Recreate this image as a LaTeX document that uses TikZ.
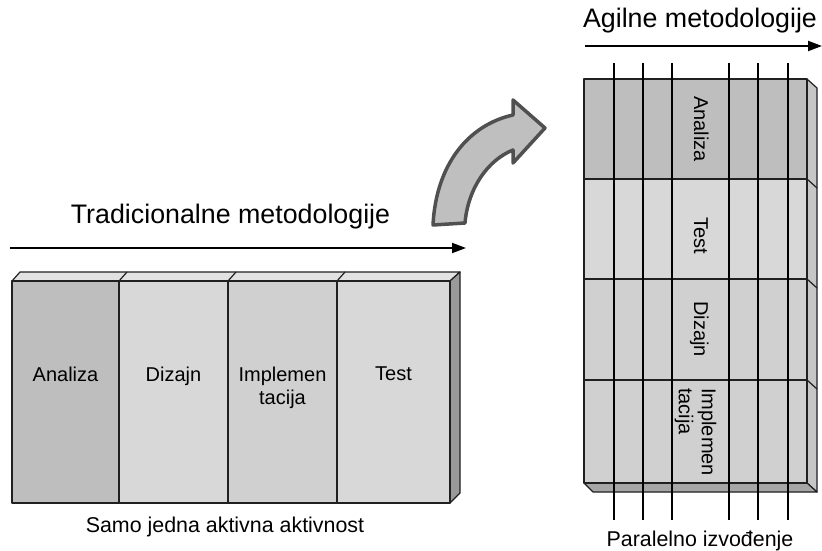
\documentclass[tikz,border=0pt]{standalone}
\usepackage{fontspec}
\setmainfont{Liberation Sans}
\usetikzlibrary{arrows.meta}
\definecolor{gA}{HTML}{BEBEBE}
\definecolor{gL}{HTML}{D8D8D8}
\definecolor{gM}{HTML}{D0D0D0}
\definecolor{topc}{HTML}{E2E2E2}
\definecolor{sidec}{HTML}{9A9A9A}
\definecolor{rside}{HTML}{C6C6C6}
\definecolor{rbot}{HTML}{A6A6A6}
\definecolor{arrfill}{HTML}{BFBFBF}
\definecolor{arredge}{HTML}{505050}
\definecolor{edgec}{HTML}{202020}
\begin{document}
\begin{tikzpicture}[x=1pt,y=-1pt,
  edge/.style={draw=edgec,line width=1.2pt,line join=round},
  tarrow/.style={line width=2pt,-{Triangle[length=14pt,width=10pt]}},
  vline/.style={line width=2.6pt},
  boxlab/.style={inner sep=0pt,anchor=north,align=center,font=\fontsize{20}{23}\selectfont},
  rlab/.style={inner sep=0pt,rotate=-90,text height=14pt,text depth=0pt,font=\fontsize{20}{23}\selectfont},
  titlelab/.style={inner sep=0pt,anchor=base,font=\fontsize{26.8}{30}\selectfont},
  caplab/.style={inner sep=0pt,anchor=base,font=\fontsize{21.4}{25}\selectfont}]
\useasboundingbox[fill=white] (0,0) rectangle (822,551);

% ---------- Traditional ----------
\node[titlelab] (ttrad) at (230.5,223) {Tradicionalne metodologije};
\coordinate (ta1) at (10,248);
\coordinate (ta2) at (466,248);
\draw[tarrow] (ta1) -- (ta2);

% top face
\draw[edge,fill=topc] (12,281) -- (20,272) -- (460,272) -- (450,281) -- cycle;
\draw[edge] (119,281) -- (127,272);
\draw[edge] (228,281) -- (236,272);
\draw[edge] (337,281) -- (345,272);
% side face
\draw[edge,fill=sidec] (450,281) -- (460,272) -- (460,493) -- (450,503) -- cycle;
% columns
\draw[edge,fill=gA] (12,281) rectangle (119,503);
\draw[edge,fill=gL] (119,281) rectangle (228,503);
\draw[edge,fill=gM] (228,281) rectangle (337,503);
\draw[edge,fill=gL] (337,281) rectangle (450,503);

\node[boxlab] (la) at (65.5,367) {Analiza};
\node[boxlab] (ld) at (173.5,367) {Dizajn};
\node[boxlab] (li) at (282.5,367) {Implemen\\tacija};
\node[boxlab] (lt) at (393.5,367) {Test};
\node[caplab] (samo) at (225,532) {Samo jedna aktivna aktivnost};

% ---------- curved arrow ----------
\draw[line width=3.5pt,draw=arredge,fill=arrfill,line join=round]
  (433,225) -- (465,223)
  .. controls (468,188) and (488,160) .. (513,150)
  -- (513,163) -- (545,128) -- (513,100) -- (513,115)
  .. controls (468,125) and (436,165) .. (433,225) -- cycle;

% ---------- Agile ----------
\node[titlelab] (tagil) at (700,28) {Agilne metodologije};
\coordinate (aa1) at (585,46);
\coordinate (aa2) at (822,46);
\draw[tarrow] (aa1) -- (aa2);

% right face
\draw[edge,fill=rside] (807,79) -- (817,88) -- (817,492) -- (807,483) -- cycle;
\draw[edge] (807,179) -- (817,188);
\draw[edge] (807,279) -- (817,288);
\draw[edge] (807,380) -- (817,389);
% bottom face
\draw[edge,fill=rbot] (584,483) -- (807,483) -- (817,492) -- (593,492) -- cycle;
% rows
\draw[edge,fill=gA] (584,79) rectangle (807,179);
\draw[edge,fill=gL] (584,179) rectangle (807,279);
\draw[edge,fill=gM] (584,279) rectangle (807,380);
\draw[edge,fill=gM] (584,380) rectangle (807,483);

\node[rlab] (ra) at (701,129) {Analiza};
\node[rlab] (rt) at (701,236) {Test};
\node[rlab] (rd) at (701,329) {Dizajn};
\node[inner sep=0pt,rotate=-90,anchor=north west,align=left,font=\fontsize{20}{23}\selectfont] (ri) at (716.5,388) {Implemen\\tacija};

% parallel lines
\foreach \x/\n in {614/1,643/2,672/3,729/4,758/5,788/6}{
  \coordinate (p\n t) at (\x,63);
  \coordinate (p\n b) at (\x,520);
  \draw[vline] (p\n t) -- (p\n b);
}
\node[caplab] (paral) at (700,546) {Paralelno izvođenje};
\end{tikzpicture}
\end{document}
